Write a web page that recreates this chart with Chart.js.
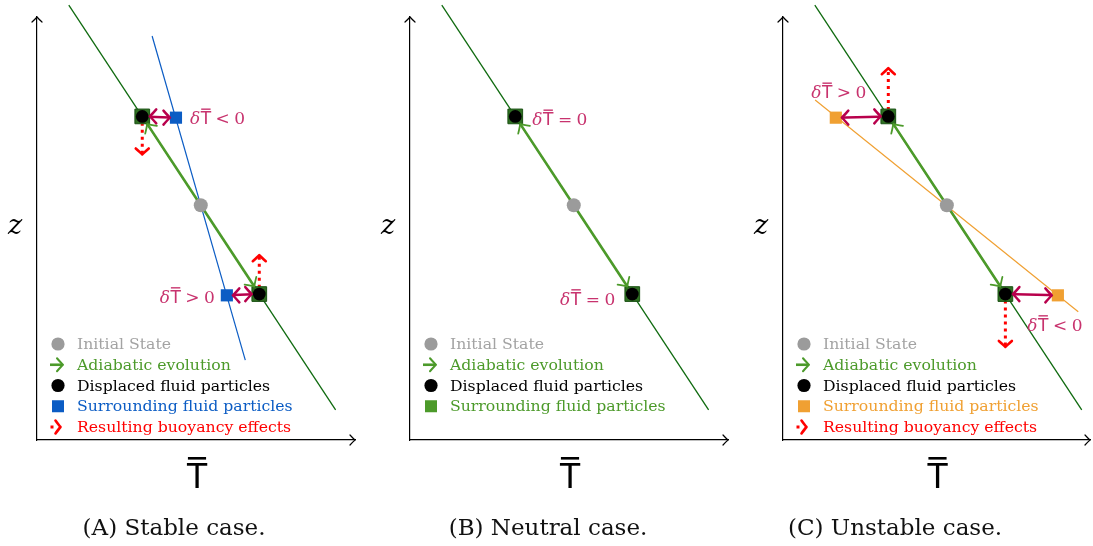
<!DOCTYPE html>
<html>
<head>
<meta charset="utf-8">
<script src="https://cdn.jsdelivr.net/npm/chart.js@4.4.1/dist/chart.umd.min.js"></script>
<style>
  html, body { margin: 0; padding: 0; background: #fff; }
  #wrap { position: relative; width: 1093px; height: 546px; overflow: hidden; }
  .panel { position: absolute; top: 0; }
</style>
</head>
<body>
<div id="wrap">
  <div class="panel" style="left:0"><canvas id="cA" width="373" height="546"></canvas></div>
  <div class="panel" style="left:373px"><canvas id="cB" width="373" height="546"></canvas></div>
  <div class="panel" style="left:746px"><canvas id="cC" width="347" height="546"></canvas></div>
</div>
<script>
// mean temperature T and height z, arbitrary units (axes run 0..10)
const initialT = [5.15];
const initialZ = [5.55];
const parcelT = [3.31, 6.99];            // displaced parcels: upper, lower
const parcelZ = [7.65, 3.45];
const adiabatT = [1.0, 9.39];            // adiabat through the initial state
const adiabatZ = [10.28, 0.71];
const stableProfileT = [3.62, 6.55];
const stableProfileZ = [9.55, 1.89];
const stableSurroundT = [4.37, 5.97];
const unstableProfileT = [1.01, 9.28];
const unstableProfileZ = [8.04, 3.03];
const unstableSurroundT = [1.66, 8.64];
const surroundZ = [7.62, 3.42];
const stableBuoyancy = [-0.9, 0.92];     // z shift of the buoyancy arrows
const unstableBuoyancy = [1.14, -1.25];
const stableSigns = ['<', '>'];
const neutralSigns = ['=', '='];
const unstableSigns = ['>', '<'];
const captions = ['(A) Stable case.', '(B) Neutral case.', '(C) Unstable case.'];
const legendTexts = ['Initial State', 'Adiabatic evolution', 'Displaced fluid particles',
                     'Surrounding fluid particles', 'Resulting buoyancy effects'];

const GRAY = '#9b9b9b';
const GREEN = '#4c9a2a';
const DKGREEN = '#0f6a0f';
const SQ = '#2f6f22';
const SQB = '#1b5214';
const BLUE = '#0b5cc4';
const ORANGE = '#f0a032';
const CRIMSON = '#b8004c';
const LABEL = '#c8336e';
const RED = '#ff0000';
const SERIF = '"DejaVu Serif"';

const pts = (xs, ys) => xs.map((x, i) => ({ x, y: ys[i] }));

// open arrow tip, apex at (x, y) pointing along ang
function tip(ctx, x, y, ang, len, half, w, color) {
  ctx.save();
  ctx.translate(x, y);
  ctx.rotate(ang);
  ctx.strokeStyle = color;
  ctx.lineWidth = w;
  ctx.lineCap = 'round';
  ctx.lineJoin = 'round';
  ctx.setLineDash([]);
  ctx.beginPath();
  ctx.moveTo(-len, -half);
  ctx.quadraticCurveTo(-len * 0.3, -half * 0.25, 0, 0);
  ctx.quadraticCurveTo(-len * 0.3, half * 0.25, -len, half);
  ctx.stroke();
  ctx.restore();
}

// "δT̄ < 0" style label
function deltaLabel(ctx, sign, x, y, align) {
  const parts = [
    { t: 'δ', f: 'italic 17px ' + SERIF, pl: 0, pr: 0.5 },
    { t: 'T', f: '17px "DejaVu Sans"', pl: 0, pr: 0, bar: true },
    { t: sign, f: '17px ' + SERIF, pl: 4.5, pr: 4.5 },
    { t: '0', f: '17px ' + SERIF, pl: 0, pr: 0 }
  ];
  let total = 0;
  parts.forEach(p => { ctx.font = p.f; p.w = ctx.measureText(p.t).width; total += p.pl + p.w + p.pr; });
  let cx = align === 'left' ? x : align === 'right' ? x - total : x - total / 2;
  const base = y + 6.5;
  ctx.save();
  ctx.fillStyle = LABEL;
  ctx.strokeStyle = LABEL;
  ctx.textBaseline = 'alphabetic';
  ctx.textAlign = 'left';
  parts.forEach(p => {
    cx += p.pl;
    ctx.font = p.f;
    ctx.fillText(p.t, cx, base);
    if (p.bar) {
      ctx.lineWidth = 1.4;
      ctx.beginPath();
      ctx.moveTo(cx + 0.5, base - 15);
      ctx.lineTo(cx + p.w - 0.5, base - 15);
      ctx.stroke();
    }
    cx += p.w + p.pr;
  });
  ctx.restore();
}

function decor(cfg) {
  return {
    id: 'decor' + cfg.id,
    afterDatasetsDraw(chart) {
      const { ctx, chartArea: a, scales } = chart;
      const X = v => scales.x.getPixelForValue(v);
      const Y = v => scales.y.getPixelForValue(v);
      ctx.save();

      // axis arrow heads and titles
      tip(ctx, a.right, a.bottom, 0, 5, 5, 1.2, '#000');
      tip(ctx, a.left, a.top, -Math.PI / 2, 5, 5, 1.2, '#000');
      ctx.fillStyle = '#000';
      ctx.textAlign = 'center';
      ctx.textBaseline = 'middle';
      ctx.font = 'italic 27px ' + SERIF;
      ctx.fillText('z', a.left - 22, (a.top + a.bottom) / 2 - 2);
      ctx.font = '33px "DejaVu Sans"';
      const tx = (a.left + a.right) / 2 + 1;
      ctx.textBaseline = 'alphabetic';
      ctx.fillText('T', tx, a.bottom + 48);
      const tw = ctx.measureText('T').width;
      ctx.fillRect(tx - tw / 2 + 1, a.bottom + 17, tw - 2, 2.6);

      // sub-figure caption
      ctx.fillStyle = '#111';
      ctx.font = '23px ' + SERIF;
      ctx.textBaseline = 'middle';
      ctx.fillText(cfg.caption, cfg.captionX, 529);

      const g = { x: X(initialT[0]), y: Y(initialZ[0]) };
      parcelT.forEach((t, i) => {
        const p = { x: X(t), y: Y(parcelZ[i]) };
        // adiabatic evolution arrow head
        const ang = Math.atan2(p.y - g.y, p.x - g.x);
        tip(ctx, p.x - 9 * Math.cos(ang), p.y - 9 * Math.sin(ang), ang, 7, 7, 1.8, GREEN);

        const s = { x: X(cfg.surroundT[i]), y: Y(surroundZ[i]) };
        if (cfg.buoyancy) {
          const dir = Math.sign(s.x - p.x);
          tip(ctx, p.x + dir * 7.5, p.y, dir > 0 ? Math.PI : 0, 6.5, 7, 2.5, CRIMSON);
          tip(ctx, s.x - dir * 6, s.y, dir > 0 ? 0 : Math.PI, 6.5, 7, 2.5, CRIMSON);
          const b = cfg.buoyancy[i];
          tip(ctx, p.x, Y(parcelZ[i] + b), b > 0 ? -Math.PI / 2 : Math.PI / 2, 6, 6.5, 2.6, RED);
        }
        const L = cfg.labels[i];
        deltaLabel(ctx, cfg.signs[i], (L.ref === 's' ? s.x : p.x) + L.dx, s.y + L.dy, L.align);
      });

      // legend inside the plot, lower left
      const mx = a.left + 21;
      const lx = a.left + 40;
      cfg.legend.forEach((r, i) => {
        const yy = a.bottom - 96 + i * 20.75;
        ctx.save();
        if (r.mark === 'circle') {
          ctx.fillStyle = r.markColor;
          ctx.beginPath();
          ctx.arc(mx, yy, 6.6, 0, Math.PI * 2);
          ctx.fill();
        } else if (r.mark === 'square') {
          ctx.fillStyle = r.markColor;
          ctx.fillRect(mx - 6, yy - 6, 12, 12);
        } else if (r.mark === 'arrow') {
          ctx.strokeStyle = r.markColor;
          ctx.lineWidth = 2.6;
          ctx.beginPath();
          ctx.moveTo(mx - 8, yy);
          ctx.lineTo(mx + 4, yy);
          ctx.stroke();
          tip(ctx, mx + 5, yy, 0, 6, 6.5, 2, r.markColor);
        } else if (r.mark === 'dotted') {
          ctx.fillStyle = r.markColor;
          ctx.fillRect(mx - 7.5, yy - 1.5, 3, 3);
          tip(ctx, mx + 2.5, yy, 0, 5, 6.5, 2.6, r.markColor);
        }
        ctx.fillStyle = r.color;
        ctx.font = '15.7px ' + SERIF;
        ctx.textAlign = 'left';
        ctx.textBaseline = 'middle';
        ctx.fillText(r.text, lx, yy + 1);
        ctx.restore();
      });
      ctx.restore();
    }
  };
}

function makePanel(canvasId, cfg) {
  const parcels = pts(parcelT, parcelZ);
  const initial = pts(initialT, initialZ)[0];
  const surround = pts(cfg.surroundT, surroundZ);
  const lineSet = (data, color, width, extra) =>
    Object.assign({ data, showLine: true, borderColor: color, borderWidth: width, pointRadius: 0 }, extra || {});

  const ds = [];
  ds.push({ data: [initial], pointRadius: 7, pointBackgroundColor: GRAY, pointBorderWidth: 0 });
  ds.push({ data: parcels, pointRadius: 6.4, pointBackgroundColor: '#000', pointBorderWidth: 0 });
  ds.push({ data: parcels, pointStyle: 'rect', pointRadius: 10.4, pointBackgroundColor: SQ,
            pointBorderColor: SQB, pointBorderWidth: 1 });
  if (cfg.profileColor) {
    ds.push({ data: surround, pointStyle: 'rect', pointRadius: 8.6, pointBackgroundColor: cfg.profileColor,
              pointBorderWidth: 0 });
  }
  ds.push(lineSet([parcels[0], initial, parcels[1]], GREEN, 2.6));
  if (cfg.buoyancy) {
    parcels.forEach((p, i) => {
      ds.push(lineSet([p, surround[i]], CRIMSON, 2.5));
      const end = { x: p.x, y: p.y + cfg.buoyancy[i] };
      const start = { x: p.x, y: p.y + Math.sign(cfg.buoyancy[i]) * 0.15 };
      ds.push(lineSet([start, end], RED, 3, { borderDash: [3, 4] }));
    });
  }
  if (cfg.profileColor) ds.push(lineSet(pts(cfg.profileT, cfg.profileZ), cfg.profileColor, 1.2));
  ds.push(lineSet(pts(adiabatT, adiabatZ), DKGREEN, 1.3));
  ds.forEach(d => { d.clip = false; d.pointHoverRadius = d.pointRadius; });

  const axis = (max) => ({
    type: 'linear', min: 0, max, display: true,
    ticks: { display: false },
    grid: { display: false, drawTicks: false },
    border: { display: true, color: '#000', width: 1.2 }
  });

  const canvas = document.getElementById(canvasId);
  return new Chart(canvas, {
    type: 'scatter',
    data: { datasets: ds },
    options: {
      responsive: false,
      animation: false,
      devicePixelRatio: 1,
      events: [],
      layout: {
        autoPadding: false,
        padding: { left: 37, top: 17, right: canvas.width - cfg.axisEnd, bottom: 106 }
      },
      scales: { x: axis(cfg.xMax), y: axis(10) },
      plugins: {
        legend: { display: false },
        tooltip: { enabled: false },
        title: { display: false }
      }
    },
    plugins: [decor(cfg)]
  });
}

function legendRows(squareColor, withBuoyancy) {
  const rows = [
    { mark: 'circle', markColor: GRAY, color: '#a3a3a3', text: legendTexts[0] },
    { mark: 'arrow', markColor: GREEN, color: GREEN, text: legendTexts[1] },
    { mark: 'circle', markColor: '#000', color: '#000', text: legendTexts[2] },
    { mark: 'square', markColor: squareColor, color: squareColor, text: legendTexts[3] }
  ];
  if (withBuoyancy) rows.push({ mark: 'dotted', markColor: RED, color: RED, text: legendTexts[4] });
  return rows;
}

makePanel('cA', {
  id: 'A', caption: captions[0], captionX: 174, xMax: 10, axisEnd: 355,
  surroundT: stableSurroundT, profileT: stableProfileT, profileZ: stableProfileZ,
  profileColor: BLUE, buoyancy: stableBuoyancy, signs: stableSigns,
  labels: [{ ref: 's', dx: 14, dy: 0, align: 'left' }, { ref: 's', dx: -12, dy: 1, align: 'right' }],
  legend: legendRows(BLUE, true)
});

makePanel('cB', {
  id: 'B', caption: captions[1], captionX: 175, xMax: 10, axisEnd: 355,
  surroundT: parcelT, signs: neutralSigns,
  labels: [{ ref: 'p', dx: 17, dy: 1, align: 'left' }, { ref: 'p', dx: -17, dy: 3, align: 'right' }],
  legend: legendRows(GREEN, false)
});

makePanel('cC', {
  id: 'C', caption: captions[2], captionX: 149, xMax: 9.65, axisEnd: 344,
  surroundT: unstableSurroundT, profileT: unstableProfileT, profileZ: unstableProfileZ,
  profileColor: ORANGE, buoyancy: unstableBuoyancy, signs: unstableSigns,
  labels: [{ ref: 's', dx: 3, dy: -26, align: 'center' }, { ref: 's', dx: -3, dy: 29, align: 'center' }],
  legend: legendRows(ORANGE, true)
});
</script>
</body>
</html>
